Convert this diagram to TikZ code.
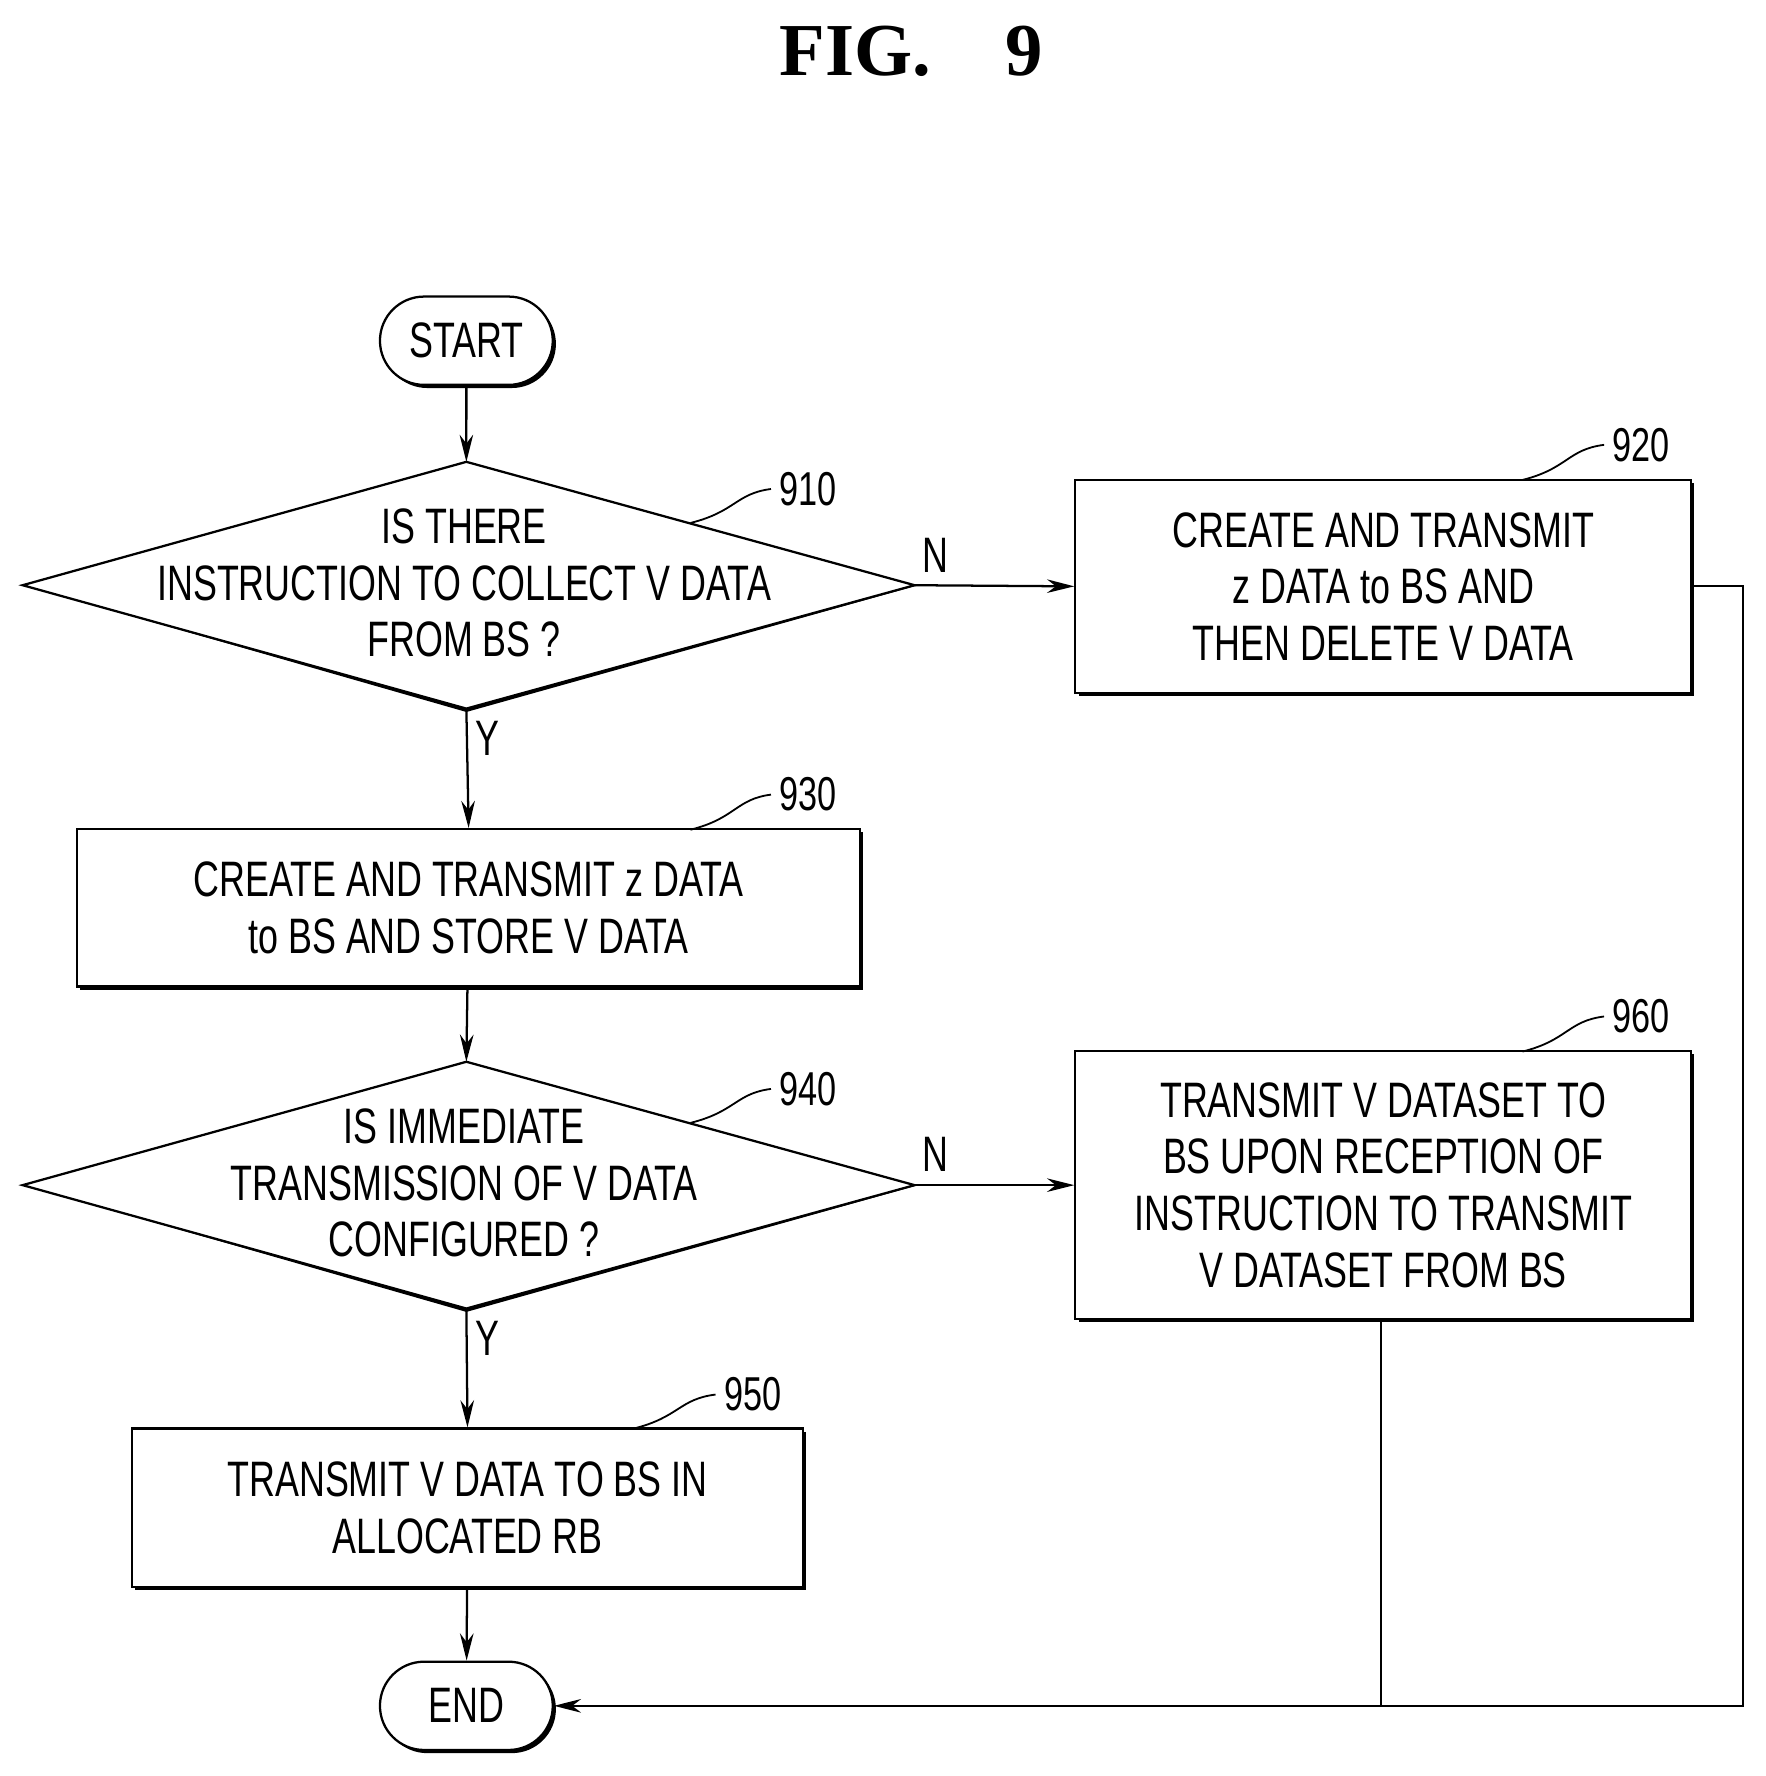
\documentclass[tikz,border=0pt]{standalone}
\usepackage{fontspec}
\setmainfont{Liberation Sans}[FakeStretch=0.72]
\newfontfamily\titlefont{Liberation Serif}
\usetikzlibrary{arrows.meta,shadows,shapes.misc}

\begin{document}
\begin{tikzpicture}[x=0.5pt,y=-0.5pt,line width=1pt,
  every node/.style={font=\fontsize{22}{25}\selectfont},
  step box/.style={rectangle,draw,fill=white,align=center,inner sep=0pt,
    drop shadow={shadow xshift=1.4pt,shadow yshift=-1.4pt,fill=black,opacity=1}},
  term/.style={rounded rectangle,draw,fill=white,minimum width=83pt,minimum height=39pt,
    drop shadow={shadow xshift=1.4pt,shadow yshift=-1.4pt,fill=black,opacity=1}},
  ref num/.style={font=\fontsize{21}{24}\selectfont},
  arr/.style={-{Stealth[length=12pt,width=6pt]}}]
\useasboundingbox (0,0) rectangle (1560,1569);
% title
\node[font=\titlefont\bfseries\fontsize{33}{36}\selectfont] (title) at (805,45) {FIG.\quad 9};
% terminals
\node[term] (start) at (412,301) {START};
\node[term] (end) at (412,1507) {END};
% decision 910
\fill[black] (22,517) -- (412,629) -- (811,517) -- cycle;
\draw[fill=white] (20,517) coordinate (d1w) -- (412,408) coordinate (d1n)
  -- (808,517) coordinate (d1e) -- (412,626) coordinate (d1s) -- cycle;
\node[align=center] (d1) at (410,515) {IS THERE\\INSTRUCTION TO COLLECT V DATA\\FROM BS ?};
% decision 940
\fill[black] (22,1047) -- (412,1159) -- (811,1047) -- cycle;
\draw[fill=white] (20,1047) coordinate (d2w) -- (412,938) coordinate (d2n)
  -- (808,1047) coordinate (d2e) -- (412,1156) coordinate (d2s) -- cycle;
\node[align=center] (d2) at (410,1045) {IS IMMEDIATE\\TRANSMISSION OF V DATA\\CONFIGURED ?};
% process boxes
\node[step box,minimum width=272pt,minimum height=94pt] (s920) at (1222,518)
  {CREATE AND TRANSMIT\\z DATA to BS AND\\THEN DELETE V DATA};
\node[step box,minimum width=346pt,minimum height=69.5pt] (s930) at (414,802)
  {CREATE AND TRANSMIT z DATA\\to BS AND STORE V DATA};
\node[step box,minimum width=272pt,minimum height=118.5pt] (s960) at (1222,1047)
  {TRANSMIT V DATASET TO\\BS UPON RECEPTION OF\\INSTRUCTION TO TRANSMIT\\V DATASET FROM BS};
\node[step box,minimum width=296.5pt,minimum height=70pt] (s950) at (413,1332)
  {TRANSMIT V DATA TO BS IN\\ALLOCATED RB};
% reference numerals
\node[ref num] (n910) at (714,432) {910};
\node[ref num] (n920) at (1450,393) {920};
\node[ref num] (n930) at (714,702) {930};
\node[ref num] (n940) at (714,962) {940};
\node[ref num] (n950) at (665,1232) {950};
\node[ref num] (n960) at (1450,898) {960};
\draw[line width=0.8pt] (610,462) .. controls (650,452) and (650,436) .. (n910.west);
\draw[line width=0.8pt] (1345,424) .. controls (1385,414) and (1385,397) .. (n920.west);
\draw[line width=0.8pt] (610,733) .. controls (650,723) and (650,706) .. (n930.west);
\draw[line width=0.8pt] (610,992) .. controls (650,982) and (650,966) .. (n940.west);
\draw[line width=0.8pt] (560,1262) .. controls (600,1252) and (600,1236) .. (n950.west);
\draw[line width=0.8pt] (1345,929) .. controls (1385,919) and (1385,902) .. (n960.west);
% connectors
\draw[arr] (start) -- (d1n);
\draw[arr] (d1e) -- node[above,pos=0.13,yshift=2pt] {N} (s920.west);
\draw[arr] (d1s) -- node[right,pos=0.25] {Y} (s930.north);
\draw[arr] (s930) -- (d2n);
\draw[arr] (d2e) -- node[above,pos=0.13,yshift=2pt] {N} (s960.west);
\draw[arr] (d2s) -- node[right,pos=0.25] {Y} (s950.north);
\draw[arr] (s950) -- (end);
\coordinate (c1) at (1540,518);
\coordinate (c2) at (1540,1507);
\coordinate (c3) at (1220,1507);
\draw[arr] (s920.east) -- (c1) -- (c2) -- (end.east);
\draw (s960.south -| c3) -- (c3);
\end{tikzpicture}
\end{document}
